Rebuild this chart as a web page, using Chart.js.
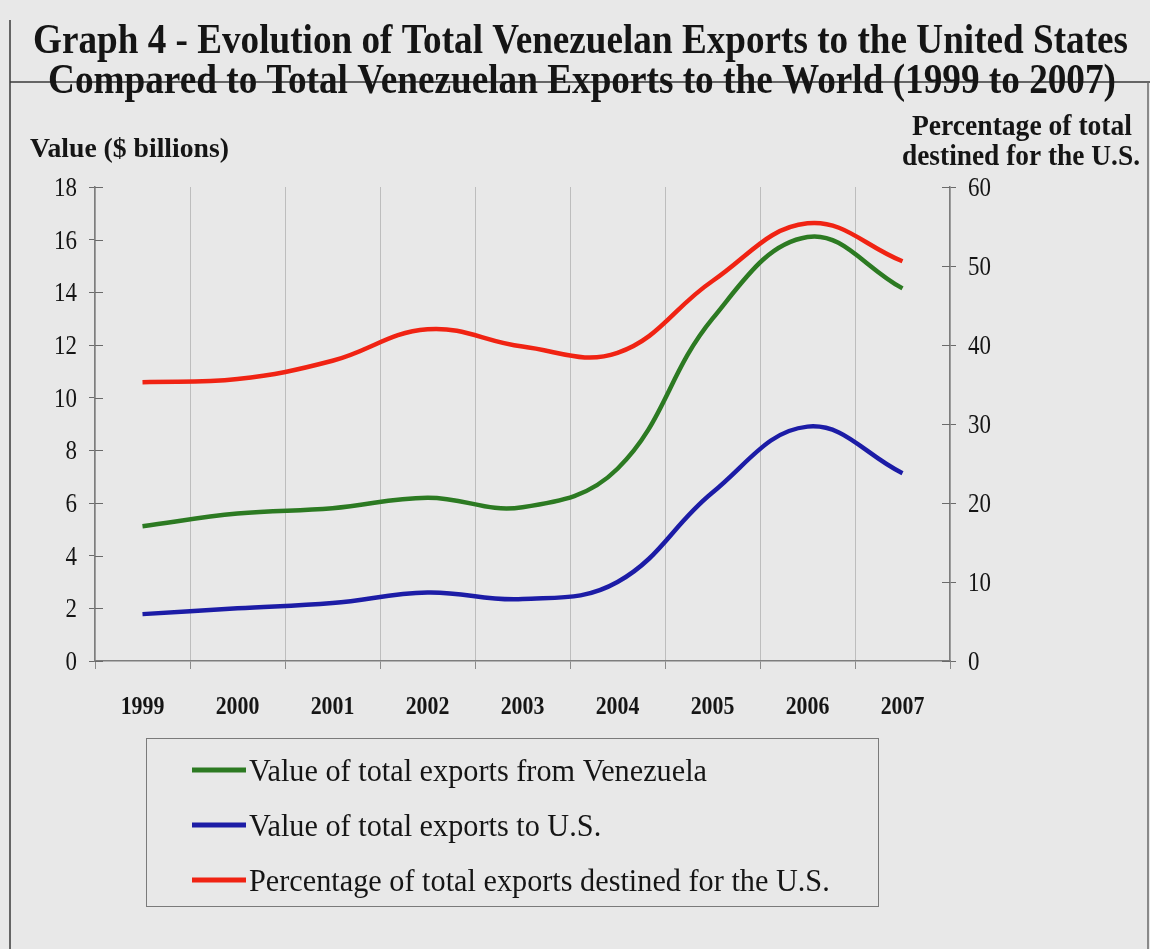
<!DOCTYPE html>
<html>
<head>
<meta charset="utf-8">
<script src="https://cdn.jsdelivr.net/npm/chart.js@4.4.1/dist/chart.umd.min.js"></script>
<style>
  html, body { margin: 0; padding: 0; background: #e8e8e8; }
  canvas { display: block; }
</style>
</head>
<body>
<canvas id="c" width="1150" height="949"></canvas>
<script>
// Years on the horizontal axis
const years = ['1999', '2000', '2001', '2002', '2003', '2004', '2005', '2006', '2007'];
// Value of total exports from Venezuela ($ billions)
const totalExports = [5.12, 5.6, 5.8, 6.2, 5.84, 7.3, 13.0, 16.1, 14.15];
// Value of total exports to the U.S. ($ billions)
const usExports = [1.78, 2.0, 2.2, 2.6, 2.35, 3.0, 6.4, 8.9, 7.13];
// Share of total exports destined for the U.S. (%)
const usShare = [35.3, 35.7, 38.0, 42.0, 39.8, 39.0, 48.1, 55.4, 50.6];

const seriesLabels = [
  'Value of total exports from Venezuela',
  'Value of total exports to U.S.',
  'Percentage of total exports destined for the U.S.'
];
const seriesColors = ['#2c7a22', '#1c1ca6', '#f02313'];

const titleLines = [
  'Graph 4 - Evolution of Total Venezuelan Exports to the United States',
  'Compared to Total Venezuelan Exports to the World (1999 to 2007)'
];
const leftTitle = 'Value ($ billions)';
const rightTitle = ['Percentage of total', 'destined for the U.S.'];

const SERIF = '"Liberation Serif", "Times New Roman", serif';
const INK = '#151515';

// Draw text squeezed horizontally by factor sx
function drawText(ctx, s, x, y, font, align, sx, color) {
  ctx.save();
  ctx.font = font;
  ctx.fillStyle = color || INK;
  ctx.textAlign = align;
  ctx.textBaseline = 'alphabetic';
  ctx.translate(x, y);
  ctx.scale(sx, 1);
  ctx.fillText(s, 0, 0);
  ctx.restore();
}
// Draw text starting at x so that it spans width w
function drawFitted(ctx, s, x, y, font, w, color) {
  ctx.save();
  ctx.font = font;
  const m = ctx.measureText(s).width;
  ctx.restore();
  drawText(ctx, s, x, y, font, 'left', w / m, color);
}
function drawCentered(ctx, s, cx, y, font, w, color) {
  ctx.save();
  ctx.font = font;
  const m = ctx.measureText(s).width;
  ctx.restore();
  drawText(ctx, s, cx, y, font, 'center', w / m, color);
}

const decorPlugin = {
  id: 'decor',
  beforeDraw(chart) {
    const ctx = chart.ctx;
    ctx.save();
    ctx.fillStyle = '#e8e8e8';
    ctx.fillRect(0, 0, chart.width, chart.height);

    // frame lines
    ctx.strokeStyle = '#3a3a3a';
    ctx.lineWidth = 1.5;
    ctx.beginPath();
    ctx.moveTo(10, 20); ctx.lineTo(10, 949);
    ctx.moveTo(10, 82); ctx.lineTo(1150, 82);
    ctx.stroke();
    ctx.strokeStyle = '#6a6a6a';
    ctx.beginPath();
    ctx.moveTo(1148, 82); ctx.lineTo(1148, 949);
    ctx.stroke();
    ctx.restore();

    // titles
    const tf = 'bold 42px ' + SERIF;
    drawFitted(ctx, titleLines[0], 33, 53, tf, 1095);
    drawFitted(ctx, titleLines[1], 48, 93, tf, 1068);

    // axis titles
    drawFitted(ctx, leftTitle, 30, 157, 'bold 28px ' + SERIF, 199);
    drawCentered(ctx, rightTitle[0], 1022, 135, 'bold 29px ' + SERIF, 220);
    drawCentered(ctx, rightTitle[1], 1021, 165, 'bold 29px ' + SERIF, 238);
  },
  afterDraw(chart) {
    const ctx = chart.ctx;
    const yL = chart.scales.y;
    const yR = chart.scales.y1;
    const x = chart.scales.x;

    // inner halves of the value-axis tick marks
    ctx.save();
    ctx.strokeStyle = '#6a6a6a';
    ctx.lineWidth = 1;
    ctx.beginPath();
    yL.ticks.forEach((t, i) => {
      const py = Math.round(yL.getPixelForTick(i)) + 0.5;
      ctx.moveTo(yL.right, py); ctx.lineTo(yL.right + 8, py);
    });
    yR.ticks.forEach((t, i) => {
      const py = Math.round(yR.getPixelForTick(i)) + 0.5;
      ctx.moveTo(yR.left - 8, py); ctx.lineTo(yR.left, py);
    });
    ctx.stroke();
    ctx.restore();

    // tick labels
    const tickFont = '27px ' + SERIF;
    yL.ticks.forEach((t, i) => {
      drawText(ctx, String(t.value), 77, yL.getPixelForTick(i) + 9, tickFont, 'right', 0.85);
    });
    yR.ticks.forEach((t, i) => {
      drawText(ctx, String(t.value), 968, yR.getPixelForTick(i) + 9, tickFont, 'left', 0.85);
    });
    chart.data.labels.forEach((lab, i) => {
      drawText(ctx, lab, x.getPixelForValue(i), 714, 'bold 26px ' + SERIF, 'center', 0.84);
    });

    // legend box
    const bx = 146, by = 738, bw = 732, bh = 168;
    ctx.save();
    ctx.strokeStyle = '#7a7a7a';
    ctx.lineWidth = 1;
    ctx.strokeRect(bx + 0.5, by + 0.5, bw, bh);
    ctx.restore();
    const lf = '32px ' + SERIF;
    ctx.save();
    ctx.font = lf;
    const sx = 458 / ctx.measureText(chart.data.datasets[0].label).width;
    ctx.restore();
    chart.data.datasets.forEach((ds, i) => {
      const cy = 770 + i * 55;
      ctx.save();
      ctx.strokeStyle = ds.borderColor;
      ctx.lineWidth = 5;
      ctx.beginPath();
      ctx.moveTo(192, cy); ctx.lineTo(246, cy);
      ctx.stroke();
      ctx.restore();
      drawText(ctx, ds.label, 249, cy + 11, lf, 'left', sx);
    });
  }
};

new Chart(document.getElementById('c'), {
  type: 'line',
  data: {
    labels: years,
    datasets: [
      { label: seriesLabels[0], data: totalExports, yAxisID: 'y', borderColor: seriesColors[0] },
      { label: seriesLabels[1], data: usExports, yAxisID: 'y', borderColor: seriesColors[1] },
      { label: seriesLabels[2], data: usShare, yAxisID: 'y1', borderColor: seriesColors[2] }
    ]
  },
  options: {
    responsive: false,
    animation: false,
    devicePixelRatio: 1,
    layout: { padding: { top: 187, bottom: 228, left: 0, right: 0 } },
    elements: {
      line: { borderWidth: 4.5, tension: 0.4, fill: false },
      point: { radius: 0, hoverRadius: 0 }
    },
    plugins: {
      legend: { display: false },
      title: { display: false },
      tooltip: { enabled: false }
    },
    scales: {
      x: {
        type: 'category',
        offset: true,
        grid: {
          offset: true,
          drawOnChartArea: true,
          color: '#bdbdbd',
          lineWidth: 1,
          tickLength: 8,
          tickColor: '#8a8a8a'
        },
        border: { display: true, color: '#7d7d7d', width: 1.5 },
        ticks: { display: false },
        afterFit(scale) { scale.height = 60; }
      },
      y: {
        position: 'left',
        min: 0, max: 18,
        ticks: { stepSize: 2, display: false },
        grid: { drawOnChartArea: false, tickLength: 6, tickColor: '#6a6a6a' },
        border: { display: true, color: '#7d7d7d', width: 1.5 },
        afterFit(scale) { scale.width = 95; }
      },
      y1: {
        position: 'right',
        min: 0, max: 60,
        ticks: { stepSize: 10, display: false },
        grid: { drawOnChartArea: false, tickLength: 6, tickColor: '#6a6a6a' },
        border: { display: true, color: '#7d7d7d', width: 1.5 },
        afterFit(scale) { scale.width = 200; }
      }
    }
  },
  plugins: [decorPlugin]
});
</script>
</body>
</html>
